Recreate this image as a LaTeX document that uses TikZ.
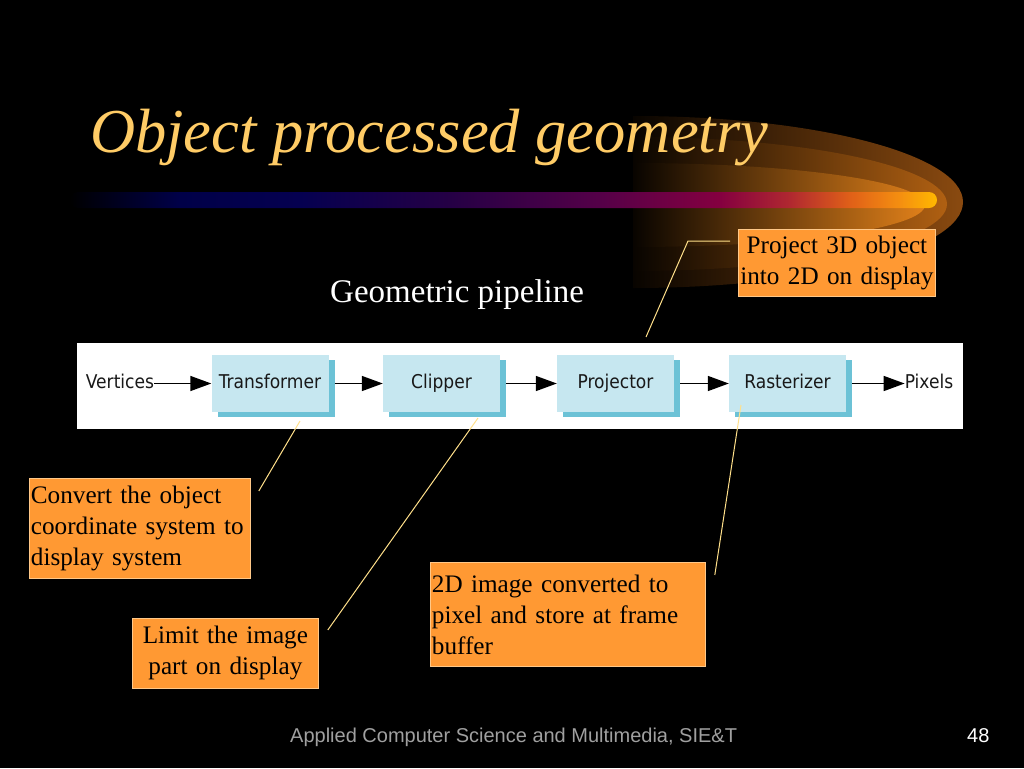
\documentclass[tikz,border=0pt]{standalone}
\usepackage{fontspec}
\setmainfont{Liberation Serif}
\setsansfont{Liberation Sans}
\newfontfamily\pipefont{DejaVu Sans Condensed}
\usetikzlibrary{calc,shadows,arrows.meta}
\definecolor{titlec}{HTML}{FFCC66}
\definecolor{callfill}{HTML}{FF9933}
\definecolor{calledge}{HTML}{FFC888}
\definecolor{linec}{HTML}{FFE08A}
\definecolor{boxc}{HTML}{C6E7F0}
\definecolor{shadc}{HTML}{6CC2D6}
\definecolor{footc}{HTML}{A0A0A0}
\definecolor{glowA}{HTML}{8A4A10}
\definecolor{glowB}{HTML}{B06012}
\definecolor{glowC}{HTML}{E0801A}
\definecolor{glowL}{HTML}{080400}
\definecolor{b1}{HTML}{000048}
\definecolor{b2}{HTML}{050050}
\definecolor{b3}{HTML}{250045}
\definecolor{b4}{HTML}{550048}
\definecolor{b5}{HTML}{850040}
\definecolor{b6}{HTML}{B02830}
\definecolor{b7}{HTML}{E06018}
\definecolor{b8}{HTML}{F59010}
\definecolor{b9}{HTML}{FFB800}
\pgfdeclarehorizontalshading{barshade}{100bp}{color(0bp)=(black); color(25bp)=(black); color(31.3bp)=(b1); color(38.3bp)=(b2); color(46.9bp)=(b3); color(55.6bp)=(b4); color(62.5bp)=(b5); color(66.5bp)=(b6); color(70bp)=(b7); color(72.9bp)=(b8); color(75bp)=(b9); color(100bp)=(b9)}
\tikzset{
  callout/.style={draw=calledge, line width=0.8pt, fill=callfill, inner xsep=1.5pt, inner ysep=2pt, anchor=north west,
    font=\fontsize{25.2}{31}\selectfont, text=black},
  callline/.style={draw=linec, line width=1pt},
  pbox/.style={fill=boxc, minimum width=117pt, minimum height=57pt, inner sep=0pt,
    text height=14pt, text depth=4pt,
    font=\pipefont\fontsize{19}{21}\selectfont, text=black!90,
    copy shadow={shadow xshift=6pt, shadow yshift=-5pt, fill=shadc, draw=none}},
  plabel/.style={inner sep=0pt, text height=14pt, text depth=4pt, font=\pipefont\fontsize{19}{21}\selectfont, text=black!90},
  pipe/.style={draw=black, line width=1.5pt, -{Triangle[length=21pt,width=15pt]}},
}
\begin{document}
\begin{tikzpicture}[x=1pt,y=-1pt]
\useasboundingbox (0,0) rectangle (1024,768);
\fill[black] (0,0) rectangle (1024,768);
% glow
\shade[left color=glowL, right color=glowA] (633,288) arc[start angle=90,end angle=-90,x radius=330,y radius=86] -- cycle;
\shade[left color=glowL, right color=glowB] (633,271) arc[start angle=90,end angle=-90,x radius=314,y radius=67] -- cycle;
\shade[left color=glowL, right color=glowC] (633,247) arc[start angle=90,end angle=-90,x radius=292,y radius=42] -- cycle;
% bar
\shade[shading=barshade, rounded corners=8pt] (70,192) rectangle (937,208);
% title
\node[anchor=base west, inner sep=0pt, text=titlec, font=\fontsize{62.5}{70}\selectfont\itshape] (title) at (90,152) {Object processed geometry};
\node[anchor=base west, inner sep=0pt, text=white, font=\fontsize{33}{36}\selectfont] (sub) at (330,302) {Geometric pipeline};
% pipeline
\fill[white] (77,343) rectangle (963,429);
\node[pbox] (tr) at (270,383.5) {Transformer};
\node[pbox] (cl) at (441.5,383.5) {Clipper};
\node[pbox] (pr) at (615.5,383.5) {Projector};
\node[pbox] (ra) at (787.5,383.5) {Rasterizer};
\node[plabel] (vert) at (120,383.5) {Vertices};
\node[plabel] (pix) at (929,383.5) {Pixels};
\draw[pipe] (vert.east) -- (tr.west);
\draw[pipe] ([xshift=6pt]tr.east) -- (cl.west);
\draw[pipe] ([xshift=6pt]cl.east) -- (pr.west);
\draw[pipe] ([xshift=6pt]pr.east) -- (ra.west);
\draw[pipe] ([xshift=6pt]ra.east) -- (pix.west);
% callouts
\node[callout, text width=194pt, minimum height=67pt, align=center] (proj) at (738,229) {Project 3D object\\into 2D on display};
\node[callout, text width=218pt, minimum height=100pt, align=left] (conv) at (29,478) {Convert the object\\coordinate system to\\display system};
\node[callout, text width=183pt, minimum height=70pt, align=center] (lim) at (132,618) {Limit the image\\part on display};
\node[callout, text width=272pt, minimum height=104pt, align=left] (img) at (430,562) {2D image converted to\\pixel and store at frame\\buffer};
\coordinate (pbend) at (688,241);
\coordinate (pend) at (646,337);
\coordinate (tend) at (300,421);
\coordinate (cend) at (478,418);
\coordinate (rend) at (741,405);
\draw[callline] ($(proj.north west)+(-8,12)$) -- (pbend) -- (pend);
\draw[callline] ($(conv.north east)+(8,13)$) -- (tend);
\draw[callline] ($(lim.north east)+(9,12)$) -- (cend);
\draw[callline] ($(img.north east)+(9,13)$) -- (rend);
% footer
\node[anchor=base west, inner sep=0pt, text=footc, font=\sffamily\fontsize{20}{22}\selectfont] (foot) at (290,742) {Applied Computer Science and Multimedia, SIE\&T};
\node[anchor=base west, inner sep=0pt, text=white, font=\sffamily\fontsize{20}{22}\selectfont] (pg) at (967,742) {48};
\end{tikzpicture}
\end{document}
